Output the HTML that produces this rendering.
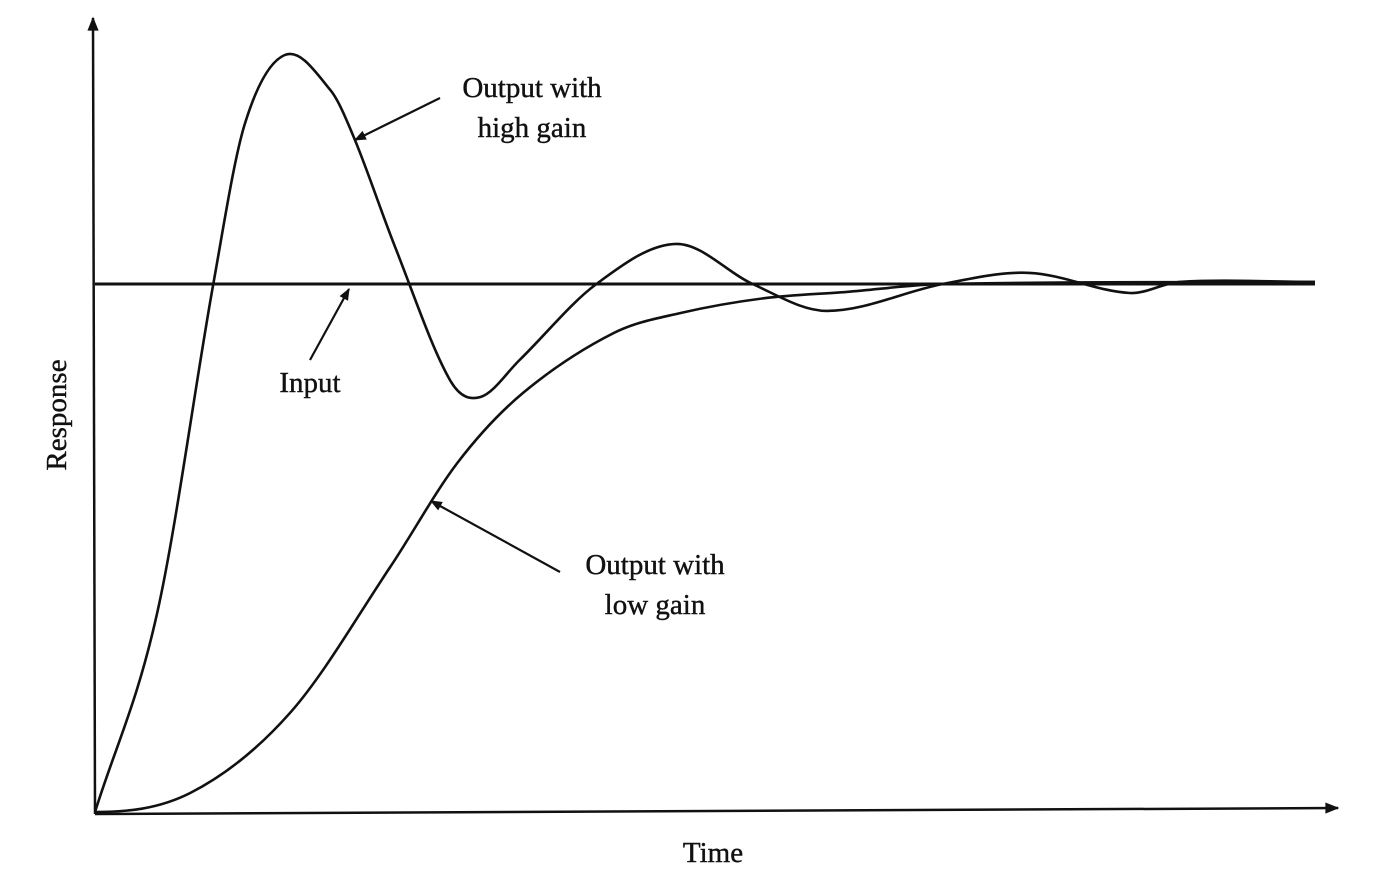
<!DOCTYPE html>
<html><head><meta charset="utf-8">
<style>
html,body{margin:0;padding:0;background:#fff;}
svg{display:block;}
text{font-family:"Liberation Serif",serif;fill:#111;}
</style></head>
<body>
<svg id="chart" width="1398" height="876" viewBox="0 0 1398 876">
<defs>
<marker id="ah" viewBox="0 0 10 10" refX="9" refY="5" markerWidth="16" markerHeight="12" markerUnits="userSpaceOnUse" orient="auto">
<path d="M0,1 L10,5 L0,9 Z" fill="#111"/>
</marker>
<marker id="ax" viewBox="0 0 10 10" refX="9" refY="5" markerWidth="24" markerHeight="14" markerUnits="userSpaceOnUse" orient="auto">
<path d="M0,1 L10,5 L0,9 Z" fill="#111"/>
</marker>
</defs>
<line x1="95" y1="814" x2="93" y2="18" stroke="#111" stroke-width="2.5" marker-end="url(#ax)"/>
<line x1="95" y1="814" x2="1338" y2="808" stroke="#111" stroke-width="2.5" marker-end="url(#ax)"/>
<text transform="translate(66,415) rotate(-90)" text-anchor="middle" font-size="29" stroke="#111" stroke-width="0.4">Response</text>
<text x="713" y="862" text-anchor="middle" font-size="29" stroke="#111" stroke-width="0.4">Time</text>
<g id="series"></g>
<g>
<text x="532" y="97" text-anchor="middle" font-size="29" stroke="#111" stroke-width="0.4">Output with</text>
<text x="532" y="137" text-anchor="middle" font-size="29" stroke="#111" stroke-width="0.4">high gain</text>
<line x1="440" y1="98" x2="355" y2="140" stroke="#111" stroke-width="2.2" marker-end="url(#ah)"/>
</g>
<g>
<text x="310" y="392" text-anchor="middle" font-size="29" stroke="#111" stroke-width="0.4">Input</text>
<line x1="310" y1="360" x2="349" y2="289" stroke="#111" stroke-width="2.2" marker-end="url(#ah)"/>
</g>
<g>
<text x="655" y="574" text-anchor="middle" font-size="29" stroke="#111" stroke-width="0.4">Output with</text>
<text x="655" y="614" text-anchor="middle" font-size="29" stroke="#111" stroke-width="0.4">low gain</text>
<line x1="560" y1="572" x2="431" y2="501" stroke="#111" stroke-width="2.2" marker-end="url(#ah)"/>
</g>
</svg>
<script>
const highT = [0, 0.51, 0.97, 1.23, 1.56, 1.93, 2.13, 2.46, 2.91, 3.16, 3.48, 4.11, 4.77, 5.39, 6.0, 6.95, 7.66, 8.48, 8.89, 10];
const highR = [0, 0.377, 1.0, 1.305, 1.434, 1.367, 1.273, 1.07, 0.818, 0.786, 0.856, 1.0, 1.076, 1.0, 0.949, 1.0, 1.021, 0.983, 1.004, 1.004];
const lowT = [0, 0.78, 1.60, 2.42, 2.97, 3.51, 4.25, 4.80, 5.48, 6.16, 6.95, 10];
const lowR = [0, 0.036, 0.188, 0.464, 0.661, 0.794, 0.907, 0.945, 0.973, 0.985, 1.0, 1.004];
const inputT = [0, 10];
const inputR = [1, 1];

function xS(t){return 95 + t*122;}
function yS(r){return 812 - r*528;}
function smoothPath(ts, rs, flatStart){
  const n = ts.length;
  const m = [];
  for(let i=0;i<n;i++){
    if(i===0) m.push(flatStart ? 0 : (rs[1]-rs[0])/(ts[1]-ts[0]));
    else if(i===n-1) m.push((rs[n-1]-rs[n-2])/(ts[n-1]-ts[n-2]));
    else m.push((rs[i+1]-rs[i-1])/(ts[i+1]-ts[i-1]));
  }
  let d = 'M' + xS(ts[0]).toFixed(1) + ',' + yS(rs[0]).toFixed(1);
  for(let i=0;i<n-1;i++){
    const h = ts[i+1]-ts[i];
    const t1 = ts[i]+h/3, r1 = rs[i]+m[i]*h/3;
    const t2 = ts[i+1]-h/3, r2 = rs[i+1]-m[i+1]*h/3;
    d += ' C'+xS(t1).toFixed(1)+','+yS(r1).toFixed(1)+' '+xS(t2).toFixed(1)+','+yS(r2).toFixed(1)+' '+xS(ts[i+1]).toFixed(1)+','+yS(rs[i+1]).toFixed(1);
  }
  return d;
}
const g = document.getElementById('series');
const ns = 'http://www.w3.org/2000/svg';

const inp = document.createElementNS(ns,'path');


inp.setAttribute('d', smoothPath(inputT, inputR, false));
inp.setAttribute('fill','none'); inp.setAttribute('stroke','#111'); inp.setAttribute('stroke-width','3');
g.appendChild(inp);

const hi = document.createElementNS(ns,'path');


hi.setAttribute('d', smoothPath(highT, highR, false));
hi.setAttribute('fill','none'); hi.setAttribute('stroke','#111'); hi.setAttribute('stroke-width','2.6');
g.appendChild(hi);

const lo = document.createElementNS(ns,'path');


lo.setAttribute('d', smoothPath(lowT, lowR, true));
lo.setAttribute('fill','none'); lo.setAttribute('stroke','#111'); lo.setAttribute('stroke-width','2.6');
g.appendChild(lo);
</script>
</body></html>
